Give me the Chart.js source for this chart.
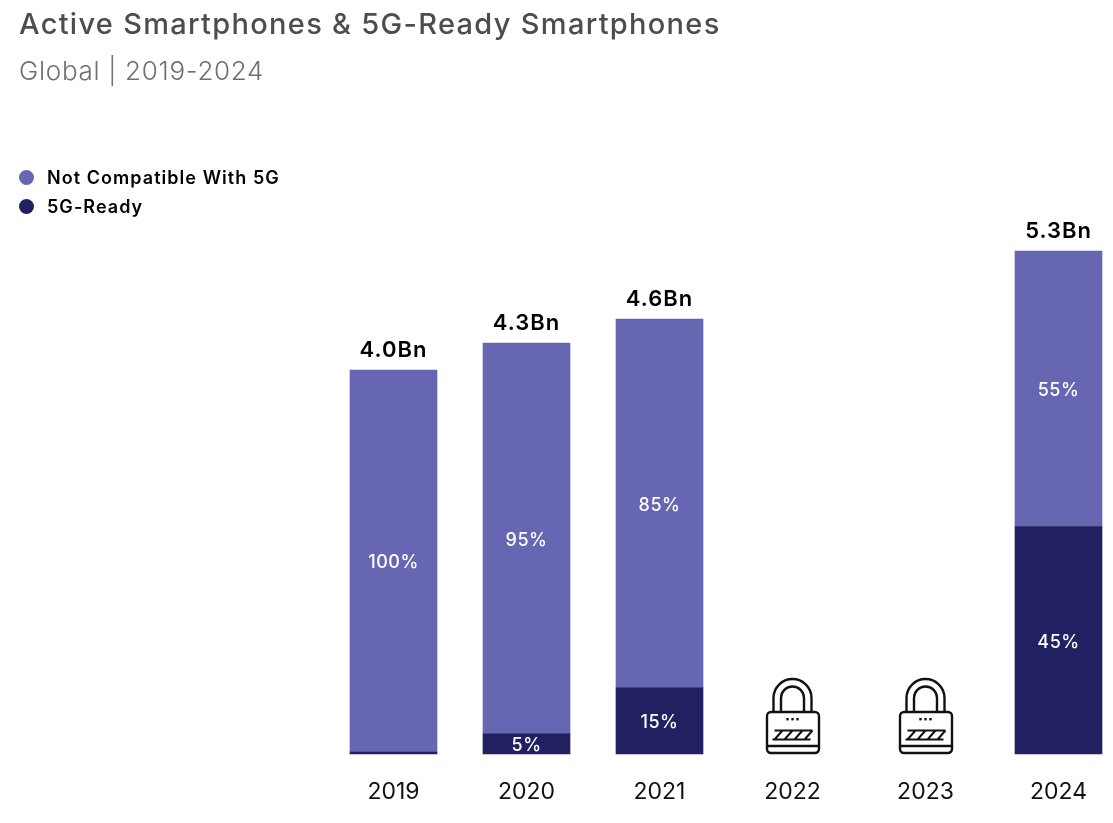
<!DOCTYPE html>
<html>
<head>
<meta charset="utf-8">
<title>Active Smartphones & 5G-Ready Smartphones</title>
<script src="https://cdn.jsdelivr.net/npm/chart.js@4"></script>
<style>
  html, body { margin: 0; background: #fff; overflow: hidden; }
  body { width: 1113px; height: 823px; position: relative; font-family: Inter, sans-serif; }
  canvas { position: absolute; left: 0; top: 0; }
  .title { position: absolute; left: 19px; top: 6px; font-size: 29px; letter-spacing: 1.3px; font-weight: 500; color: #4d4d4d; white-space: nowrap; }
  .subtitle { position: absolute; left: 19px; top: 55px; font-size: 26px; letter-spacing: 0.7px; font-weight: 300; color: #6f6f6f; white-space: nowrap; }
  .legend { position: absolute; left: 19px; top: 163px; }
  .legend div { height: 29px; line-height: 29px; font-size: 18px; letter-spacing: 1.05px; font-weight: 600; color: #000; white-space: nowrap; }
  .legend i { display: inline-block; width: 15px; height: 15px; border-radius: 50%; margin-right: 13px; vertical-align: -1px; }
</style>
</head>
<body>
<canvas id="chart" width="1113" height="823"></canvas>
<div class="title">Active Smartphones &amp; 5G-Ready Smartphones</div>
<div class="subtitle">Global | 2019-2024</div>
<div class="legend" id="legend"></div>
<script>
const years = ["2019", "2020", "2021", "2022", "2023", "2024"];
const notCompatible = [3.98, 4.07, 3.84, null, null, 2.87];
const fiveGReady = [0.02, 0.21, 0.69, null, null, 2.37];
const notCompatibleLabels = ["100%", "95%", "85%", "", "", "55%"];
const fiveGReadyLabels = ["", "5%", "15%", "", "", "45%"];
const totalLabels = ["4.0Bn", "4.3Bn", "4.6Bn", "", "", "5.3Bn"];
const lockedYears = ["2022", "2023"];

const LIGHT = "#6766b3";
const DARK = "#212061";
const FONT = "Inter, sans-serif";

document.getElementById("legend").innerHTML =
  `<div><i style="background:${LIGHT}"></i>Not Compatible With 5G</div>` +
  `<div><i style="background:${DARK}"></i>5G-Ready</div>`;

// percent labels inside the bars and the totals on top
const barLabels = {
  id: "barLabels",
  afterDatasetsDraw(chart) {
    const ctx = chart.ctx;
    const inner = [fiveGReadyLabels, notCompatibleLabels];
    ctx.save();
    ctx.textAlign = "center";
    ctx.textBaseline = "middle";
    ctx.font = "500 18px " + FONT;
    ctx.letterSpacing = "0.5px";
    ctx.fillStyle = "#fff";
    inner.forEach((labels, d) => {
      chart.getDatasetMeta(d).data.forEach((bar, i) => {
        if (labels[i]) ctx.fillText(labels[i], bar.x, (bar.y + bar.base) / 2 + 2);
      });
    });
    ctx.font = "600 22px " + FONT;
    ctx.letterSpacing = "1px";
    ctx.fillStyle = "#000";
    chart.getDatasetMeta(1).data.forEach((bar, i) => {
      if (totalLabels[i]) ctx.fillText(totalLabels[i], bar.x, bar.y - 20);
    });
    ctx.restore();
  },
};

// padlock icon standing on the baseline for the years behind the paywall
const lockIcons = {
  id: "lockIcons",
  afterDatasetsDraw(chart) {
    const ctx = chart.ctx;
    const base = chart.scales.y.getPixelForValue(0);
    lockedYears.forEach((year) => {
      const cx = chart.scales.x.getPixelForValue(years.indexOf(year));
      ctx.save();
      ctx.translate(cx, base);
      ctx.strokeStyle = "#111";
      ctx.fillStyle = "#111";
      ctx.lineWidth = 2.4;
      // body
      ctx.beginPath();
      ctx.roundRect(-25.5, -42, 52, 41, 4);
      ctx.stroke();
      // bottom stripe
      ctx.beginPath();
      ctx.moveTo(-25.5, -8);
      ctx.lineTo(26.5, -8);
      ctx.stroke();
      // shackle
      ctx.beginPath();
      ctx.moveTo(-19, -42);
      ctx.lineTo(-19, -56);
      ctx.arc(0, -56, 19, Math.PI, 0);
      ctx.lineTo(19, -42);
      ctx.moveTo(-11.5, -42);
      ctx.lineTo(-11.5, -56);
      ctx.arc(0, -56, 11.5, Math.PI, 0);
      ctx.lineTo(11.5, -42);
      ctx.stroke();
      // three dots
      [-5, 0, 5].forEach((dx) => ctx.fillRect(dx - 1.2, -36, 2.4, 2.4));
      // code stripes
      ctx.lineWidth = 2;
      ctx.beginPath();
      ctx.moveTo(-18, -23.5);
      ctx.lineTo(20, -23.5);
      ctx.moveTo(-20, -14.5);
      ctx.lineTo(18, -14.5);
      [-14, -4, 6, 16].forEach((dx) => {
        ctx.moveTo(dx + 4, -23.5);
        ctx.lineTo(dx - 4, -14.5);
      });
      ctx.stroke();
      ctx.restore();
    });
  },
};

new Chart(document.getElementById("chart"), {
  type: "bar",
  data: {
    labels: years,
    datasets: [
      { label: "5G-Ready", data: fiveGReady, backgroundColor: DARK, stack: "a" },
      { label: "Not Compatible With 5G", data: notCompatible, backgroundColor: LIGHT, stack: "a" },
    ],
  },
  options: {
    responsive: false,
    animation: false,
    layout: { padding: { left: 393.5, right: 54.5, top: 251, bottom: 0 } },
    datasets: { bar: { barThickness: 87, clip: false } },
    scales: {
      x: {
        stacked: true,
        offset: false,
        grid: { display: false },
        border: { display: false },
        ticks: { color: "#111", font: { family: FONT, size: 23 }, padding: 16, maxRotation: 0, autoSkip: false },
        afterFit(scale) { scale.height = 69; },
      },
      y: { stacked: true, display: false, min: 0, max: 5.24 },
    },
    plugins: { legend: { display: false }, tooltip: { enabled: false } },
  },
  plugins: [barLabels, lockIcons],
});
</script>
</body>
</html>
